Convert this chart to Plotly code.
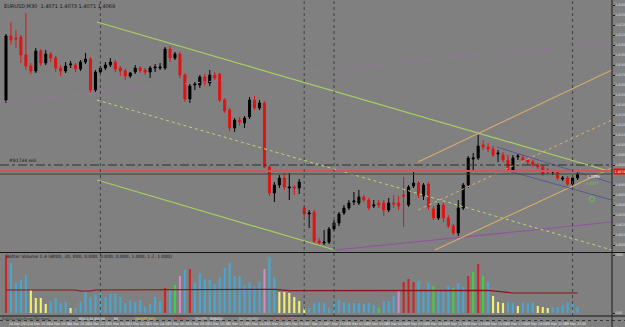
import plotly.graph_objects as go

# ---------------- data ----------------
BAR_IDX = list(range(116))

OPEN = [1.4145, 1.4209, 1.4207, 1.4208, 1.4190, 1.4179, 1.4174, 1.4194, 1.4182, 1.4191,
        1.4187, 1.4177, 1.4174, 1.4180, 1.4180, 1.4176, 1.4183, 1.4186, 1.4155, 1.4173,
        1.4177, 1.4180, 1.4183, 1.4177, 1.4174, 1.4169, 1.4173, 1.4177, 1.4175, 1.4173,
        1.4177, 1.4177, 1.4177, 1.4196, 1.4187, 1.4191, 1.4170, 1.4146, 1.4160, 1.4160,
        1.4168, 1.4162, 1.4170, 1.4171, 1.4145, 1.4135, 1.4117, 1.4125, 1.4122, 1.4128,
        1.4145, 1.4137, 1.4142, 1.4078, 1.4052, 1.4060, 1.4067, 1.4057, 1.4058, 1.4057,
        1.4037, 1.4031, 1.4033, 1.4004, 1.4002, 1.4003, 1.4016, 1.4022, 1.4032, 1.4037,
        1.4043, 1.4042, 1.4048, 1.4045, 1.4039, 1.4042, 1.4042, 1.4035, 1.4042, 1.4042,
        1.4050, 1.4040, 1.4059, 1.4062, 1.4049, 1.4061, 1.4036, 1.4027, 1.4040, 1.4027,
        1.4019, 1.4012, 1.4037, 1.4060, 1.4086, 1.4087, 1.4100, 1.4098, 1.4096, 1.4091,
        1.4090, 1.4085, 1.4075, 1.4088, 1.4087, 1.4085, 1.4083, 1.4080, 1.4078, 1.4075,
        1.4073, 1.4073, 1.4066, 1.4067, 1.4061, 1.4067]

CLOSE = [1.4209, 1.4205, 1.4206, 1.4190, 1.4179, 1.4174, 1.4194, 1.4182, 1.4191, 1.4187,
         1.4177, 1.4174, 1.4179, 1.4181, 1.4176, 1.4183, 1.4186, 1.4155, 1.4173, 1.4177,
         1.4180, 1.4183, 1.4176, 1.4174, 1.4169, 1.4172, 1.4177, 1.4174, 1.4173, 1.4177,
         1.4178, 1.4178, 1.4196, 1.4187, 1.4191, 1.4170, 1.4146, 1.4159, 1.4161, 1.4168,
         1.4162, 1.4170, 1.4167, 1.4145, 1.4134, 1.4117, 1.4125, 1.4123, 1.4127, 1.4145,
         1.4137, 1.4142, 1.4078, 1.4052, 1.4060, 1.4067, 1.4058, 1.4058, 1.4057, 1.4063,
         1.4031, 1.4032, 1.4004, 1.4002, 1.4003, 1.4016, 1.4022, 1.4031, 1.4037, 1.4042,
         1.4044, 1.4048, 1.4045, 1.4037, 1.4040, 1.4040, 1.4035, 1.4042, 1.4041, 1.4039,
         1.4049, 1.4058, 1.4062, 1.4050, 1.4060, 1.4038, 1.4027, 1.4040, 1.4027, 1.4019,
         1.4012, 1.4037, 1.4060, 1.4087, 1.4087, 1.4099, 1.4098, 1.4096, 1.4090, 1.4092,
         1.4085, 1.4075, 1.4087, 1.4089, 1.4085, 1.4083, 1.4080, 1.4078, 1.4071, 1.4073,
         1.4074, 1.4067, 1.4067, 1.4061, 1.4067, 1.4071]

HIGH = [1.4211, 1.4223, 1.4215, 1.4210, 1.4232, 1.4182, 1.4197, 1.4196, 1.4195, 1.4193,
        1.4189, 1.4180, 1.4183, 1.4184, 1.4182, 1.4185, 1.4192, 1.4188, 1.4175, 1.4179,
        1.4183, 1.4187, 1.4185, 1.4179, 1.4176, 1.4173, 1.4180, 1.4179, 1.4177, 1.4179,
        1.4181, 1.4182, 1.4198, 1.4199, 1.4193, 1.4193, 1.4172, 1.4161, 1.4163, 1.4170,
        1.4171, 1.4175, 1.4173, 1.4172, 1.4147, 1.4137, 1.4127, 1.4128, 1.4129, 1.4148,
        1.4149, 1.4145, 1.4144, 1.4080, 1.4063, 1.4070, 1.4072, 1.4072, 1.4060, 1.4066,
        1.4040, 1.4035, 1.4035, 1.4007, 1.4015, 1.4018, 1.4025, 1.4033, 1.4040, 1.4045,
        1.4053, 1.4055, 1.4050, 1.4047, 1.4045, 1.4045, 1.4045, 1.4047, 1.4050, 1.4049,
        1.4068, 1.4060, 1.4075, 1.4064, 1.4062, 1.4063, 1.4039, 1.4042, 1.4042, 1.4030,
        1.4021, 1.4045, 1.4062, 1.4089, 1.4092, 1.4110, 1.4105, 1.4102, 1.4099, 1.4095,
        1.4093, 1.4090, 1.4090, 1.4091, 1.4090, 1.4087, 1.4085, 1.4082, 1.4080, 1.4077,
        1.4075, 1.4075, 1.4069, 1.4069, 1.4069, 1.4073]

LOW = [1.4142, 1.4200, 1.4197, 1.4182, 1.4175, 1.4171, 1.4172, 1.4179, 1.4180, 1.4183,
       1.4173, 1.4169, 1.4172, 1.4177, 1.4173, 1.4174, 1.4181, 1.4152, 1.4153, 1.4171,
       1.4175, 1.4178, 1.4173, 1.4169, 1.4165, 1.4167, 1.4171, 1.4172, 1.4170, 1.4167,
       1.4173, 1.4175, 1.4175, 1.4183, 1.4185, 1.4167, 1.4143, 1.4142, 1.4155, 1.4157,
       1.4159, 1.4159, 1.4165, 1.4143, 1.4132, 1.4114, 1.4113, 1.4119, 1.4117, 1.4126,
       1.4135, 1.4135, 1.4077, 1.4049, 1.4043, 1.4057, 1.4055, 1.4045, 1.4050, 1.4051,
       1.4028, 1.4017, 1.4002, 1.4000, 1.4000, 1.4001, 1.4014, 1.4019, 1.4030, 1.4035,
       1.4040, 1.4040, 1.4043, 1.4035, 1.4037, 1.4037, 1.4029, 1.4033, 1.4037, 1.4035,
       1.4018, 1.4038, 1.4057, 1.4047, 1.4045, 1.4035, 1.4025, 1.4025, 1.4023, 1.4017,
       1.4010, 1.4009, 1.4035, 1.4057, 1.4075, 1.4085, 1.4095, 1.4093, 1.4088, 1.4083,
       1.4083, 1.4073, 1.4073, 1.4085, 1.4083, 1.4080, 1.4078, 1.4076, 1.4069, 1.4071,
       1.4070, 1.4065, 1.4064, 1.4059, 1.4059, 1.4065]

VOLUME = [2900, 2500, 1500, 1650, 1900, 1150, 750, 750, 450, 600,
          750, 500, 550, 250, 250, 550, 1050, 800, 950, 1000,
          800, 950, 950, 800, 500, 650, 550, 650, 300, 450,
          800, 600, 1250, 1150, 1400, 1850, 2150, 2200, 1500, 2000,
          1700, 1650, 1450, 1800, 2250, 2500, 1850, 1850, 1400, 1550,
          1300, 1550, 2200, 2800, 1800, 1050, 1050, 1000, 800, 600,
          250, 250, 500, 550, 500, 250, 600, 650, 550, 500,
          500, 500, 450, 500, 400, 250, 600, 600, 850, 1150,
          1550, 1700, 1550, 1600, 1150, 1500, 1350, 1150, 1150, 1350,
          1250, 1500, 1300, 1850, 2050, 2450, 1850, 1550, 850, 550,
          500, 550, 500, 350, 550, 500, 550, 350, 300, 250,
          300, 300, 400, 550, 500, 300]

# volume bar class per bar: B=normal, Y=low, R=climax, G=churn, P=climax/churn
VOLUME_CLASS = list("RBBBBYYYYBBBBY" + "BBBBBBBBBBBBBBBBBB" + "RBGPBR" + "BBBBBBBBBBBBBB"
                    + "PBB" + "YYYYYY" + "BBBBBBBBBBBBBB" + "GBBBP" + "RRR" + "BBBG"
                    + "BBBG" + "BBRGRGB" + "YYYBBYBBBYYY" + "BBBBBB")

# volume moving average (knots)
MA_IDX = [0, 14, 15, 17, 18, 42, 54, 57, 97, 102, 115]
MA_VAL = [1150, 1150, 1100, 1100, 1150, 1180, 1180, 1120, 1130, 1000, 1000]

# trend lines: (bar index, price) end points
GREEN_UPPER_X, GREEN_UPPER_Y = [18.3, 121.9], [1.4223, 1.4073]
GREEN_MID_X, GREEN_MID_Y = [18.3, 121.9], [1.4145, 1.3995]
GREEN_LOWER_X, GREEN_LOWER_Y = [18.3, 66.2], [1.4065, 1.3995]
PURPLE_DOT_X, PURPLE_DOT_Y = [-1.2, 121.9], [1.4143, 1.4203]
PURPLE_SOLID_X, PURPLE_SOLID_Y = [66.2, 121.9], [1.3995, 1.4023]
ORANGE_UPPER_X, ORANGE_UPPER_Y = [82.9, 121.9], [1.4083, 1.4175]
ORANGE_MID_X, ORANGE_MID_Y = [82.9, 121.9], [1.4035, 1.4125]
ORANGE_LOWER_X, ORANGE_LOWER_Y = [86.3, 121.9], [1.3995, 1.4077]
BLUE_UPPER_X, BLUE_UPPER_Y = [98.8, 121.9], [1.4098, 1.4062]
BLUE_LOWER_X, BLUE_LOWER_Y = [100.4, 121.9], [1.4075, 1.4045]

# horizontal levels
LEVEL_ORDER = 1.4080
LEVEL_ASK = 1.4074
LEVEL_BID = 1.4071

# day separators (bar index)
SEPARATORS = [19, 60, 66, 114]

# price labels (1.4070 is hidden under the ask box in the reference)
PRICE_TICKS = [1.4000, 1.4010, 1.4020, 1.4030, 1.4040, 1.4050, 1.4060, 1.4080,
               1.4090, 1.4100, 1.4110, 1.4120, 1.4130, 1.4140, 1.4150, 1.4160, 1.4170,
               1.4180, 1.4190, 1.4200, 1.4210, 1.4220, 1.4230, 1.4240]
VOL_TICKS = [2900, 0]
VOL_TICK_TEXT = ["2900", "0.00"]

DATE_TICK_IDX = [0, 4, 8, 12, 16, 20, 24, 28, 32, 36, 40, 44, 48, 52, 56, 60, 64, 68,
                 72, 76, 80, 84, 88, 92, 96, 100, 104, 108, 112]
DATE_TICK_TEXT = ["24 Mar 2011", "24 Mar 16:30", "24 Mar 18:30", "24 Mar 20:30",
                  "24 Mar 22:30", "25 Mar 00:30", "25 Mar 02:30", "25 Mar 04:30",
                  "25 Mar 06:30", "25 Mar 08:30", "25 Mar 10:30", "25 Mar 12:30",
                  "25 Mar 14:30", "25 Mar 16:30", "25 Mar 18:30", "27 Mar 21:00",
                  "27 Mar 23:00", "28 Mar 01:00", "28 Mar 03:00", "28 Mar 05:00",
                  "28 Mar 07:00", "28 Mar 09:00", "28 Mar 11:00", "28 Mar 13:00",
                  "28 Mar 15:00", "28 Mar 17:00", "28 Mar 19:00", "28 Mar 21:00",
                  "28 Mar 23:00"]

# ---------------- styling ----------------
BG = "#808080"
CLASS_COLORS = {"B": "#46a8d2", "Y": "#f2f070", "R": "#d02424", "G": "#3ed23e", "P": "#d08cc8"}
FONT = "DejaVu Sans"
NARROW = "Liberation Sans Narrow, DejaVu Sans Condensed, Liberation Sans, sans-serif"

W, H = 625, 327
ML, MR, MT, MB = 0, 13, 0, 6
PH = H - MT - MB  # plot height in px


def py(pix):
    """paper y from pixel row"""
    return (H - MB - pix) / PH


fig = go.Figure()


def add_line(xs, ys, color, dash="solid", width=1):
    fig.add_trace(go.Scatter(x=xs, y=ys, mode="lines", line=dict(color=color, width=width, dash=dash),
                             xaxis="x", yaxis="y", hoverinfo="skip", showlegend=False))


add_line(PURPLE_DOT_X, PURPLE_DOT_Y, "#a071a8", "dot")
add_line(PURPLE_SOLID_X, PURPLE_SOLID_Y, "#93519f", "solid", 1.2)
add_line(GREEN_UPPER_X, GREEN_UPPER_Y, "#a6d062", "solid", 1.2)
add_line(GREEN_MID_X, GREEN_MID_Y, "#b8d870", "dot", 1)
add_line(GREEN_LOWER_X, GREEN_LOWER_Y, "#a6d062", "solid", 1.2)
add_line(ORANGE_UPPER_X, ORANGE_UPPER_Y, "#d6aa6a", "solid", 1.2)
add_line(ORANGE_MID_X, ORANGE_MID_Y, "#d8b070", "dot", 1)
add_line(ORANGE_LOWER_X, ORANGE_LOWER_Y, "#d6aa6a", "solid", 1.2)
add_line(BLUE_UPPER_X, BLUE_UPPER_Y, "#545a92", "solid", 1)
add_line(BLUE_LOWER_X, BLUE_LOWER_Y, "#545a92", "solid", 1)

fig.add_trace(go.Candlestick(
    x=BAR_IDX, open=OPEN, high=HIGH, low=LOW, close=CLOSE,
    increasing=dict(line=dict(color="#000000", width=1), fillcolor="#000000"),
    decreasing=dict(line=dict(color="#e01414", width=1), fillcolor="#e01414"),
    whiskerwidth=0, xaxis="x", yaxis="y", hoverinfo="skip", showlegend=False))

fig.add_trace(go.Scatter(x=[117.9], y=[1.4046], mode="markers",
                         marker=dict(symbol="circle-open", size=5, color="#5ec25e", line=dict(width=1)),
                         xaxis="x", yaxis="y", hoverinfo="skip", showlegend=False))

# volume
fig.add_trace(go.Bar(x=BAR_IDX, y=VOLUME, width=0.42,
                     marker=dict(color=[CLASS_COLORS[c] for c in VOLUME_CLASS], line=dict(width=0)),
                     xaxis="x", yaxis="y2", hoverinfo="skip", showlegend=False))
fig.add_trace(go.Scatter(x=MA_IDX, y=MA_VAL, mode="lines", line=dict(color="#8a1414", width=1.2),
                         xaxis="x", yaxis="y2", hoverinfo="skip", showlegend=False))

shapes = []
shapes.append(dict(type="line", xref="paper", x0=0, x1=1, yref="y", y0=LEVEL_ORDER, y1=LEVEL_ORDER,
                   line=dict(color="#2e2e2e", width=1, dash="dashdot")))
shapes.append(dict(type="line", xref="paper", x0=0, x1=1, yref="y", y0=LEVEL_ASK, y1=LEVEL_ASK,
                   line=dict(color="#c85a5a", width=2)))
shapes.append(dict(type="line", xref="paper", x0=0, x1=1, yref="y", y0=LEVEL_BID, y1=LEVEL_BID,
                   line=dict(color="#404040", width=1)))
for s in SEPARATORS:
    shapes.append(dict(type="line", xref="x", x0=s, x1=s, yref="paper", y0=py(316), y1=1,
                       line=dict(color="#424242", width=1, dash="dot")))
for pix in (252.5, 316):
    shapes.append(dict(type="line", xref="paper", x0=0, x1=W / (W - MR), yref="paper", y0=py(pix), y1=py(pix),
                       line=dict(color="#141414", width=1)))
shapes.append(dict(type="line", xref="paper", x0=0, x1=W / (W - MR), yref="paper", y0=py(320.5), y1=py(320.5),
                   line=dict(color="#3a3a3a", width=1, dash="dot")))
shapes.append(dict(type="line", xref="paper", x0=1, x1=1, yref="paper", y0=py(327), y1=1,
                   line=dict(color="#1a1a1a", width=1)))

ann = []
ann.append(dict(xref="paper", yref="paper", x=0.004, y=py(1), xanchor="left", yanchor="top",
                text="EURUSD,M30  1.4071 1.4073 1.4071 1.4069", showarrow=False,
                font=dict(family=FONT, size=5, color="#151515")))
ann.append(dict(xref="paper", yref="y", x=0.012, y=LEVEL_ORDER, xanchor="left", yanchor="bottom",
                text="#81734 sell", showarrow=False, font=dict(family=FONT, size=4.5, color="#151515")))
ann.append(dict(xref="paper", yref="paper", x=0.006, y=py(256), xanchor="left", yanchor="middle",
                text="Better Volume 1.4 (4000, 20, 000, 0.000, 0.000, 0.000, 1.000, 1.7, 1.000)",
                showarrow=False, font=dict(family=FONT, size=4.5, color="#151515")))
ann.append(dict(xref="x", yref="y", x=116.4, y=1.4069, xanchor="left", yanchor="middle",
                text="1.4059", showarrow=False, font=dict(family=NARROW, size=4, color="#f4f4f4")))
ann.append(dict(xref="x", yref="y", x=116.2, y=1.4062, xanchor="left", yanchor="middle",
                text="1.4077", showarrow=False, font=dict(family=NARROW, size=4, color="#66c466")))
ann.append(dict(xref="paper", yref="y", x=1.0015, y=LEVEL_ASK, xanchor="left", yanchor="middle",
                text="1.4074", showarrow=False, bgcolor="#e01414", borderpad=0.5,
                font=dict(family=NARROW, size=3.4, color="#ffffff")))
for xi, t in zip(DATE_TICK_IDX, DATE_TICK_TEXT):
    ann.append(dict(xref="x", yref="paper", x=xi + 0.15, y=py(324), xanchor="left", yanchor="middle",
                    text=t, showarrow=False, font=dict(family=NARROW, size=3.5, color="#ececec")))
STRIP = [(0.3, "EURUSD Daily Pivots (Fib) Stops", "#1e3c1e"), (77, "M30 1:34 4H1 H4", "#f0f0f0"),
         (112, "M1", "#f0f0f0"), (133, "MARKET INFO", "#e2d040"), (172, "SPREAD", "#e03030"),
         (193, "PROFITS", "#d0d0d0"), (208, "EURUSD", "#f4f4f4"), (237, "BUY ORDERS", "#c8c8c8"),
         (270, "SELL ORDERS", "#e04040")]
for px, t, c in STRIP:
    ann.append(dict(xref="paper", yref="paper", x=px / (W - MR), y=py(318.5), xanchor="left", yanchor="middle",
                    text=t, showarrow=False, font=dict(family=NARROW, size=3.3, color=c)))

TICKFONT = dict(family=NARROW, size=3.4, color="#e4e4e4")
fig.update_layout(
    width=W, height=H, margin=dict(l=ML, r=MR, t=MT, b=MB, pad=0, autoexpand=False),
    paper_bgcolor=BG, plot_bgcolor=BG, showlegend=False, hovermode=False,
    boxgap=0.42,
    xaxis=dict(range=[-1.207, 121.93], anchor="y2", showgrid=False, zeroline=False,
               showticklabels=False, ticks="", showline=False, rangeslider=dict(visible=False),
               fixedrange=True, automargin=False),
    yaxis=dict(domain=[py(252), 1], range=[1.4245 - 0.0252, 1.4245], side="right", anchor="x",
               tickvals=PRICE_TICKS, tickformat=".4f", ticks="outside", ticklen=1.5, tickcolor="#1a1a1a",
               tickfont=TICKFONT, showgrid=False, zeroline=False, showline=False, automargin=False),
    yaxis2=dict(domain=[py(316), py(253)], range=[-150, 3000], side="right", anchor="x",
                tickvals=VOL_TICKS, ticktext=VOL_TICK_TEXT, ticks="outside", ticklen=1.5, tickcolor="#1a1a1a",
                tickfont=TICKFONT, showgrid=False, zeroline=False, showline=False, automargin=False),
    shapes=shapes, annotations=ann,
)

fig.write_html("out.html", config={"displayModeBar": False})
